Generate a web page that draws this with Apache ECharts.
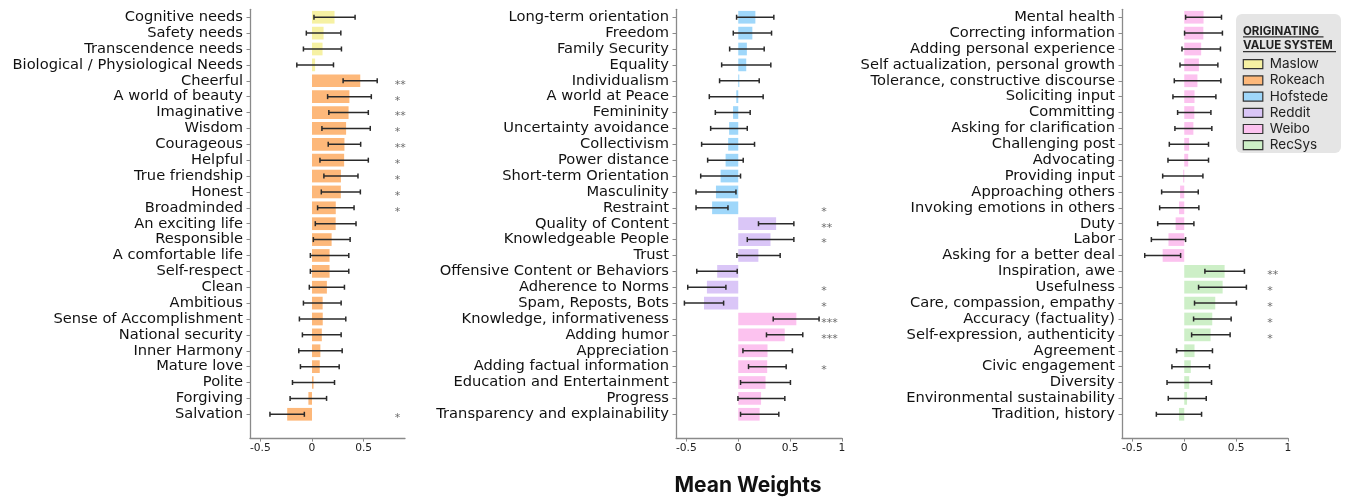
<!DOCTYPE html>
<html>
<head>
<meta charset="utf-8">
<script src="https://cdn.jsdelivr.net/npm/echarts@6/dist/echarts.min.js"></script>
<style>html,body{margin:0;padding:0;background:#fff}#c{width:1347px;height:500px}</style>
</head>
<body>
<div id="c"></div>
<script>
function rep(g, n) { return Array(n).fill(g); }

// ---- Panel 1 ----
const labels1 = ['Cognitive needs','Safety needs','Transcendence needs','Biological / Physiological Needs','Cheerful','A world of beauty','Imaginative','Wisdom','Courageous','Helpful','True friendship','Honest','Broadminded','An exciting life','Responsible','A comfortable life','Self-respect','Clean','Ambitious','Sense of Accomplishment','National security','Inner Harmony','Mature love','Polite','Forgiving','Salvation'];
const groups1 = rep('Maslow', 4).concat(rep('Rokeach', 22));
const mean1 = [0.218,0.112,0.102,0.03,0.467,0.362,0.354,0.33,0.314,0.311,0.28,0.279,0.23,0.229,0.19,0.17,0.17,0.144,0.103,0.104,0.095,0.081,0.075,0.015,-0.035,-0.24];
const lo1 = [0.019,-0.055,-0.083,-0.147,0.301,0.151,0.163,0.096,0.157,0.077,0.115,0.09,0.054,0.032,0.013,-0.016,-0.016,-0.026,-0.083,-0.122,-0.093,-0.128,-0.112,-0.189,-0.212,-0.407];
const hi1 = [0.417,0.279,0.285,0.208,0.631,0.574,0.545,0.564,0.471,0.545,0.445,0.468,0.407,0.426,0.369,0.356,0.356,0.314,0.282,0.327,0.282,0.292,0.263,0.218,0.141,-0.074];
const sig1 = ['','','','','**','*','**','*','**','*','*','*','*','','','','','','','','','','','','','*'];

// ---- Panel 2 ----
const labels2 = ['Long-term orientation','Freedom','Family Security','Equality','Individualism','A world at Peace','Femininity','Uncertainty avoidance','Collectivism','Power distance','Short-term Orientation','Masculinity','Restraint','Quality of Content','Knowledgeable People','Trust','Offensive Content or Behaviors','Adherence to Norms','Spam, Reposts, Bots','Knowledge, informativeness','Adding humor','Appreciation','Adding factual information','Education and Entertainment','Progress','Transparency and explainability'];
const groups2 = rep('Hofstede', 13).concat(rep('Reddit', 6), rep('Weibo', 7));
const mean2 = [0.165,0.136,0.083,0.077,0.01,-0.019,-0.05,-0.088,-0.097,-0.122,-0.17,-0.215,-0.252,0.365,0.311,0.194,-0.203,-0.302,-0.33,0.56,0.448,0.282,0.279,0.263,0.22,0.206];
const lo2 = [-0.016,-0.048,-0.083,-0.16,-0.18,-0.279,-0.221,-0.266,-0.353,-0.295,-0.362,-0.407,-0.407,0.195,0.087,-0.013,-0.4,-0.487,-0.519,0.337,0.272,0.045,0.099,0.022,-0.003,0.022];
const hi2 = [0.343,0.321,0.25,0.314,0.202,0.24,0.115,0.087,0.157,0.048,0.022,-0.022,-0.099,0.536,0.536,0.404,-0.01,-0.119,-0.141,0.779,0.622,0.522,0.462,0.503,0.449,0.391];
const sig2 = ['','','','','','','','','','','','','*','**','*','','','*','*','***','***','','*','','',''];

// ---- Panel 3 ----
const labels3 = ['Mental health','Correcting information','Adding personal experience','Self actualization, personal growth','Tolerance, constructive discourse','Soliciting input','Committing','Asking for clarification','Challenging post','Advocating','Providing input','Approaching others','Invoking emotions in others','Duty','Labor','Asking for a better deal','Inspiration, awe','Usefulness','Care, compassion, empathy','Accuracy (factuality)','Self-expression, authenticity','Agreement','Civic engagement','Diversity','Environmental sustainability','Tradition, history'];
const groups3 = rep('Weibo', 16).concat(rep('RecSys', 10));
const mean3 = [0.186,0.184,0.163,0.141,0.127,0.099,0.097,0.088,0.047,0.038,-0.01,-0.04,-0.05,-0.083,-0.152,-0.208,0.389,0.37,0.299,0.27,0.254,0.099,0.063,0.048,0.027,-0.051];
const lo3 = [0.013,0.003,-0.022,-0.041,-0.096,-0.109,-0.064,-0.09,-0.144,-0.157,-0.208,-0.218,-0.237,-0.256,-0.317,-0.381,0.199,0.138,0.099,0.09,0.071,-0.074,-0.119,-0.166,-0.154,-0.269];
const hi3 = [0.359,0.368,0.349,0.324,0.353,0.305,0.257,0.266,0.234,0.234,0.18,0.135,0.141,0.093,0.013,-0.035,0.58,0.599,0.503,0.452,0.442,0.272,0.244,0.263,0.212,0.167];
const sig3 = ['','','','','','','','','','','','','','','','','**','*','*','*','*','','','','',''];

const xTicks = [-0.5, 0, 0.5, 1];
const legendOrder = ['Maslow','Rokeach','Hofstede','Reddit','Weibo','RecSys'];
const palette = {Maslow:'#f6f1a3', Rokeach:'#fdb87a', Hofstede:'#9fd7fa', Reddit:'#dac6f7', Weibo:'#fcc2ef', RecSys:'#cdefc7'};

const panels = [
  {labels:labels1, groups:groups1, mean:mean1, lo:lo1, hi:hi1, sig:sig1, left:250, width:155, max:0.9},
  {labels:labels2, groups:groups2, mean:mean2, lo:lo2, hi:hi2, sig:sig2, left:676, width:166, max:1.0},
  {labels:labels3, groups:groups3, mean:mean3, lo:lo3, hi:hi3, sig:sig3, left:1122, width:166, max:1.0}
];

const AX = '#8a8a8a';
const grid = [], xAxis = [], yAxis = [], series = [];
panels.forEach((p, i) => {
  const n = p.labels.length;
  grid.push({left:p.left, top:9.3, width:p.width, height:428.8, containLabel:false});
  const ticks = xTicks.filter(t => t <= p.max);
  xAxis.push({
    type:'value', gridIndex:i, min:-0.6, max:p.max,
    axisLine:{show:true, onZero:false, lineStyle:{color:AX, width:1.3}},
    axisTick:{show:true, customValues:ticks, length:3.5, lineStyle:{color:AX, width:1}},
    axisLabel:{customValues:ticks, fontFamily:'DejaVu Sans', fontSize:10.67, color:'#222', margin:5},
    splitLine:{show:false}
  });
  yAxis.push({
    type:'category', gridIndex:i, inverse:true, data:p.labels.concat(['']),
    axisLine:{show:true, onZero:false, lineStyle:{color:AX, width:1.3}},
    axisTick:{show:true, alignWithLabel:true, length:3.5, lineStyle:{color:AX, width:1}, interval:(idx) => idx < n},
    axisLabel:{interval:0, fontFamily:'DejaVu Sans', fontSize:14.67, color:'#111', margin:7},
    splitLine:{show:false}
  });
  const present = legendOrder.filter(g => p.groups.indexOf(g) >= 0);
  present.forEach(g => {
    series.push({
      type:'bar', name:g, xAxisIndex:i, yAxisIndex:i, stack:'s' + i, barWidth:'80%',
      itemStyle:{color:palette[g]}, silent:true,
      data:p.mean.map((v, k) => p.groups[k] === g ? v : '-')
    });
  });
  series.push({
    type:'custom', xAxisIndex:i, yAxisIndex:i, silent:true, z:5,
    encode:{x:[0,1], y:2},
    data:p.lo.map((l, k) => [l, p.hi[k], k]),
    renderItem:function(params, api){
      const y = api.value(2);
      const a = api.coord([api.value(0), y]);
      const b = api.coord([api.value(1), y]);
      const c = 2.5;
      const st = {stroke:'#2a2a2a', lineWidth:1.5};
      return {type:'group', children:[
        {type:'line', shape:{x1:a[0], y1:a[1], x2:b[0], y2:b[1]}, style:st},
        {type:'line', shape:{x1:a[0], y1:a[1]-c, x2:a[0], y2:a[1]+c}, style:st},
        {type:'line', shape:{x1:b[0], y1:b[1]-c, x2:b[0], y2:b[1]+c}, style:st}
      ]};
    }
  });
  const starData = [];
  p.sig.forEach((s, k) => { if (s) starData.push({value:[0.8, k, s]}); });
  series.push({
    type:'scatter', xAxisIndex:i, yAxisIndex:i, silent:true, symbolSize:0, z:6,
    data:starData,
    label:{show:true, position:'right', distance:0, offset:[0,4], formatter:(pp) => pp.value[2],
      fontFamily:'DejaVu Sans', fontSize:11, color:'#444'}
  });
});

const chart = echarts.init(document.getElementById('c'), null, {renderer:'canvas'});
chart.setOption({
  animation:false,
  backgroundColor:'#fff',
  grid, xAxis, yAxis, series,
  legend:{
    data:legendOrder, orient:'vertical', left:1242.7, top:57.2, padding:0, itemWidth:19.5, itemHeight:9, itemGap:2.2,
    icon:'rect', selectedMode:false,
    itemStyle:{borderColor:'#333', borderWidth:1.2},
    textStyle:{fontFamily:'Inter', fontSize:13.5, color:'#222', padding:[0,0,0,2]}
  },
  graphic:[
    {type:'rect', z:-1, shape:{x:1236, y:14, width:105, height:139, r:6}, style:{fill:'#e5e5e5'}, silent:true},
    {type:'text', x:1243, y:31.3, style:{text:'ORIGINATING', fontFamily:'Inter', fontWeight:'bold', fontSize:11.5, fill:'#222', align:'left', verticalAlign:'middle'}},
    {type:'text', x:1243, y:45.6, style:{text:'VALUE SYSTEM', fontFamily:'Inter', fontWeight:'bold', fontSize:11.5, fill:'#222', align:'left', verticalAlign:'middle'}},
    {type:'line', shape:{x1:1243, y1:36.8, x2:1323.5, y2:36.8}, style:{stroke:'#333', lineWidth:1.3}},
    {type:'line', shape:{x1:1243, y1:51.6, x2:1336, y2:51.6}, style:{stroke:'#333', lineWidth:1.3}},
    {type:'text', x:748, y:486, style:{text:'Mean Weights', fontFamily:'Inter', fontWeight:'bold', fontSize:21, fill:'#111', align:'center', verticalAlign:'middle'}}
  ]
});
</script>
</body>
</html>
